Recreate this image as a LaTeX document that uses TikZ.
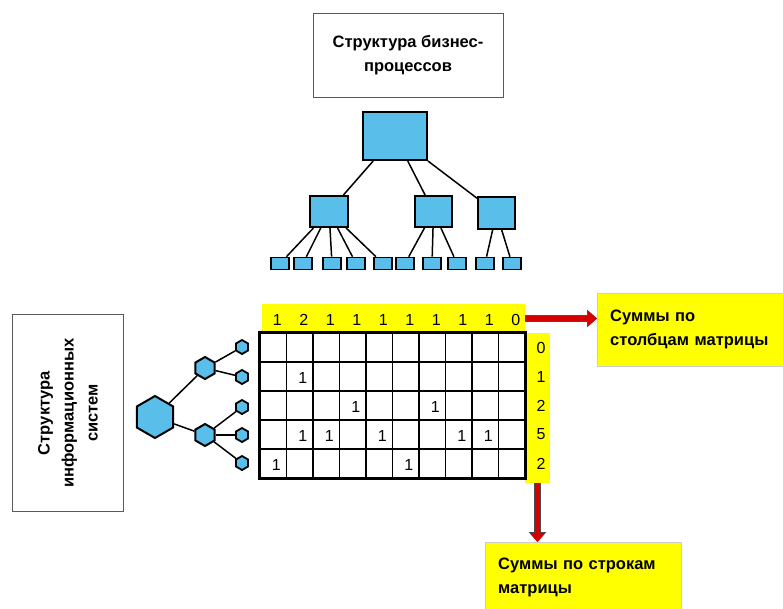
\documentclass[tikz,border=0pt]{standalone}
\usepackage{fontspec}
\setmainfont{Liberation Sans}
\usetikzlibrary{shapes.geometric,arrows.meta}

\definecolor{boxblue}{RGB}{90,190,235}
\definecolor{sumyellow}{RGB}{255,255,0}
\definecolor{arrowred}{RGB}{215,0,0}

\begin{document}
\begin{tikzpicture}[x=1pt, y=-1pt,
  labelbox/.style={draw=gray!70!black, thick, fill=white, align=center, inner sep=0,
    font=\fontsize{16.5}{24}\selectfont\bfseries},
  sumbox/.style={draw=gray!40, fill=sumyellow, align=left, anchor=north west, inner sep=0,
    font=\fontsize{16.5}{24}\selectfont\bfseries},
  bpbox/.style={draw=black, line width=2pt, fill=boxblue, inner sep=0},
  isbox/.style={regular polygon, regular polygon sides=6, shape border rotate=90,
    draw=black, line width=2pt, fill=boxblue, inner sep=0},
  link/.style={line width=1.5pt},
  cell/.style={draw=black, line width=1.2pt, minimum width=26.5, minimum height=29, inner sep=0},
  num/.style={font=\fontsize{16}{16}\selectfont, inner sep=0},
  strip/.style={fill=sumyellow, inner sep=0},
  sumarrow/.style={draw=arrowred, line width=5pt, -{Triangle[length=9pt,width=15pt]},
    preaction={draw=black!70, line width=7pt, -{Triangle[length=10pt,width=17pt]}}}]
\useasboundingbox (0,0) rectangle (783,608);

% business process structure
\node[labelbox, minimum width=190, minimum height=84] (bptitle) at (408,55)
  {Структура бизнес-\\процессов};
\node[bpbox, minimum width=64, minimum height=48] (bproot) at (395,136) {};
\node[bpbox, minimum width=38, minimum height=31] (bp1) at (329,211.5) {};
\node[bpbox, minimum width=37, minimum height=31] (bp2) at (433.5,211.5) {};
\node[bpbox, minimum width=37, minimum height=32] (bp3) at (496.5,213) {};
\foreach \i/\x in {1/280,2/303,3/332,4/356,5/383,6/405,7/432,8/457,9/485,10/512}
  \node[bpbox, line width=1.6pt, minimum width=18, minimum height=12] (leaf\i) at (\x,263.5) {};
\foreach \m in {1,2,3}
  \draw[link] (bproot) -- (bp\m);
\foreach \i in {1,...,5}
  \draw[link] (bp1) -- (leaf\i);
\foreach \i in {6,7,8}
  \draw[link] (bp2) -- (leaf\i);
\foreach \i in {9,10}
  \draw[link] (bp3) -- (leaf\i);

% information system structure
\node[labelbox, rotate=90, minimum width=197, minimum height=111] (istitle) at (68,413)
  {Структура\\информационных\\систем};
\node[isbox, minimum size=42] (isroot) at (155,417) {};
\node[isbox, minimum size=22] (is1) at (205,368) {};
\node[isbox, minimum size=22] (is2) at (205,435) {};
\foreach \i/\y in {1/347,2/377,3/407,4/435,5/463}
  \node[isbox, line width=1.8pt, minimum size=14] (isleaf\i) at (242,\y) {};
\foreach \m in {1,2}
  \draw[link] (isroot) -- (is\m);
\foreach \i in {1,2}
  \draw[link] (is1) -- (isleaf\i);
\foreach \i in {3,4,5}
  \draw[link] (is2) -- (isleaf\i);

% the matrix
\node[strip, minimum width=263, minimum height=29] (colstrip) at (393.5,318.5) {};
\node[strip, minimum width=25, minimum height=150] (rowstrip) at (537.5,408) {};
\foreach \r in {1,...,5}
  \foreach \c in {1,...,10}
    \node[cell] (cell-\r-\c) at ({260+26.5*(\c-0.5)},{333+29*(\r-0.5)}) {};
\draw[line width=2pt] (cell-1-1.north west) rectangle (cell-5-10.south east);
\foreach \r/\c in {2/2,3/4,3/7,4/2,4/3,4/5,4/8,4/9,5/1,5/6}
  \node[num] (val-\r-\c) at ([xshift=3pt,yshift=-1pt]cell-\r-\c) {1};
\foreach \c/\s in {1/1,2/2,3/1,4/1,5/1,6/1,7/1,8/1,9/1,10/0}
  \node[num] (colsum-\c) at ({260+26.5*(\c-0.5)+4},320) {\s};
\foreach \r/\s in {1/0,2/1,3/2,4/5,5/2}
  \node[num] (rowsum-\r) at (541,{333+29*(\r-0.5)}) {\s};

% sums
\node[sumbox, minimum width=186, minimum height=73, text width=170, inner xsep=13]
  (colbox) at (597,293) {Суммы по\\столбцам матрицы};
\node[sumbox, minimum width=185, minimum height=70, text width=170, inner xsep=13]
  (rowbox) at (485,542) {Суммы по строкам\\матрицы};
\draw[sumarrow] (colstrip.east) -- (colstrip.east -| colbox.west);
\draw[sumarrow] (rowstrip.south) -- (rowstrip.south |- rowbox.north);
\end{tikzpicture}
\end{document}
